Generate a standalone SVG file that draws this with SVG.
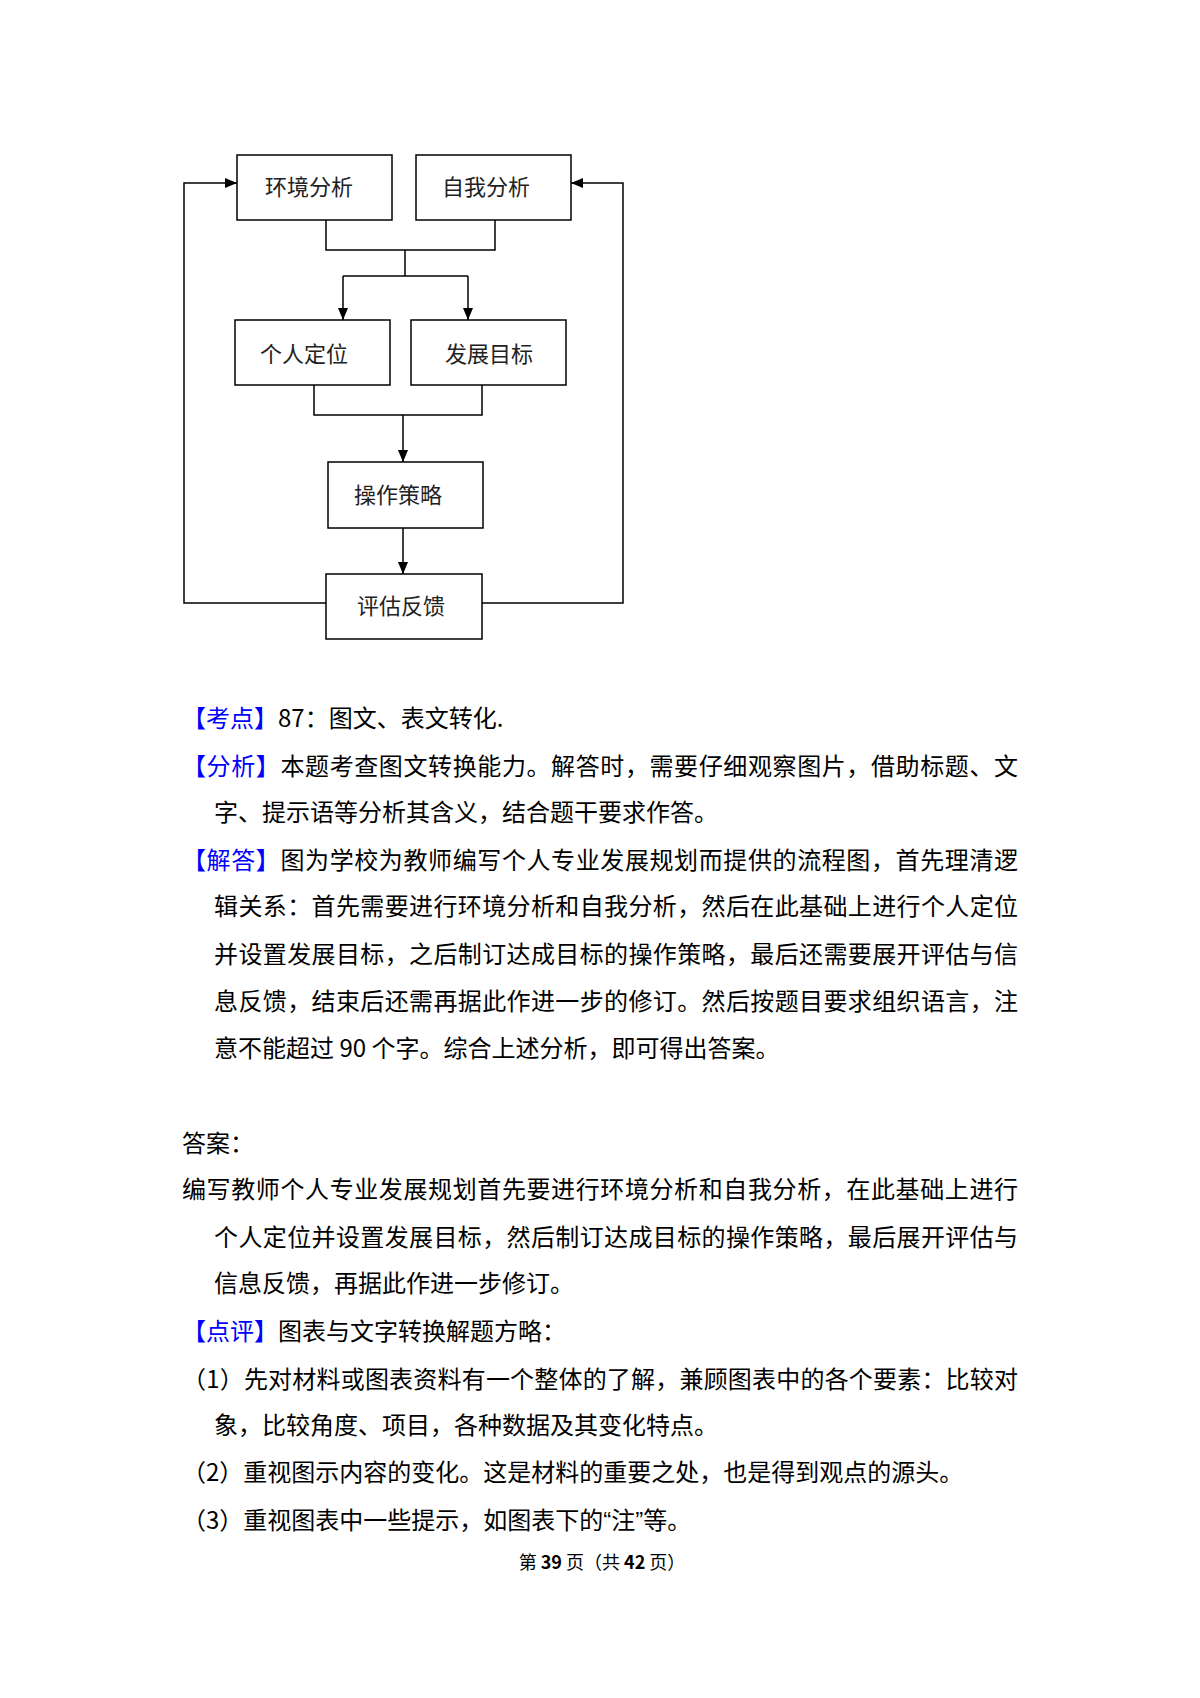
<svg xmlns="http://www.w3.org/2000/svg" width="1200" height="1698" viewBox="0 0 1200 1698">
<style>
.box{fill:#fff;stroke:#000;stroke-width:1.5}
.lbl{font-family:"Noto Sans CJK SC","Noto Sans",sans-serif;font-size:22px;fill:#222;text-anchor:middle}
.ln{fill:none;stroke:#000;stroke-width:1.5}
.t{font-family:"Noto Sans CJK SC","Noto Sans",sans-serif;font-size:24px;fill:#000}
.b{fill:#0000ff}
.q{font-family:"Liberation Sans",sans-serif}
.ft{font-family:"Noto Sans CJK SC","Noto Sans",sans-serif;font-size:18px;fill:#000;text-anchor:middle}
</style>
<defs>
<marker id="ah" markerUnits="userSpaceOnUse" markerWidth="12" markerHeight="10" refX="12" refY="5" orient="auto">
<path d="M0,0 L12,5 L0,10 z" fill="#000"/>
</marker>
</defs>
<rect width="1200" height="1698" fill="#fff"/>
<g id="connectors">
<path class="ln" d="M326,220 V250 H495 V220"/>
<path class="ln" d="M405,250 V276"/>
<path class="ln" d="M343,276 H468"/>
<path class="ln" d="M343,276 V320" marker-end="url(#ah)"/>
<path class="ln" d="M468,276 V320" marker-end="url(#ah)"/>
<path class="ln" d="M314,385 V415 H482 V385"/>
<path class="ln" d="M403,415 V462" marker-end="url(#ah)"/>
<path class="ln" d="M403,528 V574" marker-end="url(#ah)"/>
<path class="ln" d="M326,603 H184 V183 H237" marker-end="url(#ah)"/>
<path class="ln" d="M482,603 H623 V183 H571" marker-end="url(#ah)"/>
</g>
<g id="node-huanjing"><rect class="box" x="237" y="155" width="155" height="65"/><text class="lbl" x="309" y="195">环境分析</text></g>
<g id="node-ziwo"><rect class="box" x="416" y="155" width="155" height="65"/><text class="lbl" x="486" y="195">自我分析</text></g>
<g id="node-geren"><rect class="box" x="235" y="320" width="155" height="65"/><text class="lbl" x="304" y="362">个人定位</text></g>
<g id="node-fazhan"><rect class="box" x="411" y="320" width="155" height="65"/><text class="lbl" x="489" y="362">发展目标</text></g>
<g id="node-caozuo"><rect class="box" x="328" y="462" width="155" height="66"/><text class="lbl" x="398" y="503">操作策略</text></g>
<g id="node-pinggu"><rect class="box" x="326" y="574" width="156" height="65"/><text class="lbl" x="401" y="614">评估反馈</text></g>
<g id="text">
<text class="t" x="182" y="727"><tspan class="b">【考点】</tspan>87：图文、表文转化.</text>
<text class="t" x="182" y="775" textLength="836" lengthAdjust="spacing"><tspan class="b">【分析】</tspan>本题考查图文转换能力。解答时，需要仔细观察图片，借助标题、文</text>
<text class="t" x="214" y="821">字、提示语等分析其含义，结合题干要求作答。</text>
<text class="t" x="182" y="869" textLength="836" lengthAdjust="spacing"><tspan class="b">【解答】</tspan>图为学校为教师编写个人专业发展规划而提供的流程图，首先理清逻</text>
<text class="t" x="214" y="915" textLength="804" lengthAdjust="spacing">辑关系：首先需要进行环境分析和自我分析，然后在此基础上进行个人定位</text>
<text class="t" x="214" y="963" textLength="804" lengthAdjust="spacing">并设置发展目标，之后制订达成目标的操作策略，最后还需要展开评估与信</text>
<text class="t" x="214" y="1010" textLength="804" lengthAdjust="spacing">息反馈，结束后还需再据此作进一步的修订。然后按题目要求组织语言，注</text>
<text class="t" x="214" y="1057">意不能超过 90 个字。综合上述分析，即可得出答案。</text>
<text class="t" x="182" y="1152">答案：</text>
<text class="t" x="182" y="1198" textLength="836" lengthAdjust="spacing">编写教师个人专业发展规划首先要进行环境分析和自我分析，在此基础上进行</text>
<text class="t" x="214" y="1246" textLength="804" lengthAdjust="spacing">个人定位并设置发展目标，然后制订达成目标的操作策略，最后展开评估与</text>
<text class="t" x="214" y="1292">信息反馈，再据此作进一步修订。</text>
<text class="t" x="182" y="1340"><tspan class="b">【点评】</tspan>图表与文字转换解题方略：</text>
<text class="t" x="182" y="1388" textLength="836" lengthAdjust="spacing">（1）先对材料或图表资料有一个整体的了解，兼顾图表中的各个要素：比较对</text>
<text class="t" x="214" y="1434">象，比较角度、项目，各种数据及其变化特点。</text>
<text class="t" x="182" y="1481">（2）重视图示内容的变化。这是材料的重要之处，也是得到观点的源头。</text>
<text class="t" x="182" y="1529">（3）重视图表中一些提示，如图表下的<tspan class="q">“</tspan>注<tspan class="q">”</tspan>等。</text>
<text class="ft" x="602" y="1569">第 <tspan font-weight="bold">39</tspan> 页（共 <tspan font-weight="bold">42</tspan> 页）</text>
</g>
</svg>
